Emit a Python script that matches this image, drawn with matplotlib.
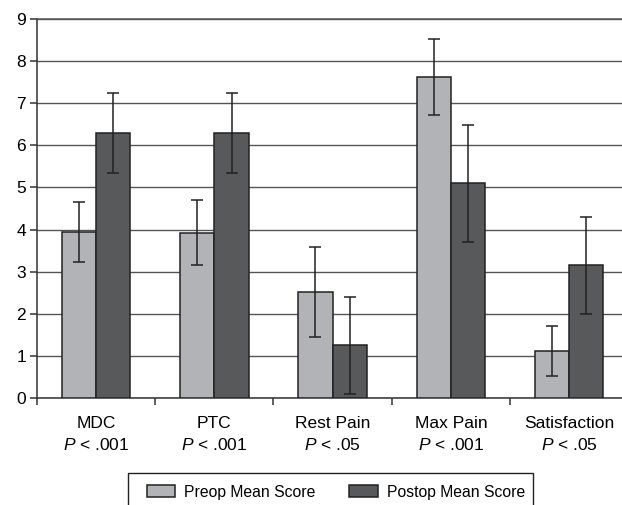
import matplotlib.pyplot as plt
from matplotlib.patches import Rectangle
import numpy as np

categories = ['MDC', 'PTC', 'Rest Pain', 'Max Pain', 'Satisfaction']
p_values = ['< .001', '< .001', '< .05', '< .001', '< .05']
preop_mean = [3.95, 3.93, 2.52, 7.62, 1.12]
preop_err = [0.71, 0.77, 1.07, 0.90, 0.60]
postop_mean = [6.3, 6.3, 1.25, 5.1, 3.15]
postop_err = [0.95, 0.95, 1.15, 1.39, 1.16]

PREOP_COLOR = '#b2b3b7'
POSTOP_COLOR = '#58595b'
W, H = 622, 505


def main():
    plt.rcParams['font.family'] = ['Liberation Sans', 'DejaVu Sans']
    plt.rcParams['mathtext.fontset'] = 'custom'
    plt.rcParams['mathtext.it'] = 'Liberation Sans:italic'
    plt.rcParams['mathtext.rm'] = 'Liberation Sans'

    fig = plt.figure(figsize=(W / 100, H / 100), dpi=100)
    ax = fig.add_axes([37 / W, 107 / H, 1 - 37 / W + 0.01, 379 / H])

    x = np.arange(len(categories))
    w = 0.29
    err_kw = dict(ecolor='#222222', elinewidth=1.1, capsize=4, capthick=1.1)
    ax.bar(x - w / 2, preop_mean, w, yerr=preop_err, color=PREOP_COLOR,
           edgecolor='#222222', linewidth=1.1, label='Preop Mean Score',
           error_kw=err_kw, zorder=3)
    ax.bar(x + w / 2, postop_mean, w, yerr=postop_err, color=POSTOP_COLOR,
           edgecolor='#222222', linewidth=1.1, label='Postop Mean Score',
           error_kw=err_kw, zorder=3)

    ax.set_xlim(-0.5, len(categories) - 0.5)
    ax.set_ylim(0, 9)
    ax.set_yticks(range(10))
    ax.yaxis.grid(True, color='#555555', linewidth=1.0, zorder=0)
    ax.set_axisbelow(True)

    ax.set_xticks(x)
    ax.set_xticklabels([f'{c}\n$P$ {p}' for c, p in zip(categories, p_values)],
                       fontsize=12.5, linespacing=1.45)
    ax.tick_params(axis='x', length=0, pad=13)
    ax.set_xticks(np.arange(len(categories) + 1) - 0.5, minor=True)
    ax.tick_params(axis='x', which='minor', length=5, width=1.1, color='#333333')
    ax.tick_params(axis='y', labelsize=12.5, length=5, width=1.1, color='#333333',
                   pad=3)

    ax.spines['right'].set_visible(False)
    for side in ['left', 'bottom', 'top']:
        ax.spines[side].set_color('#333333')
        ax.spines[side].set_linewidth(1.1)
    ax.spines['top'].set_color('#555555')

    # legend box, cut off by the bottom edge as in the original
    fig.patches.append(Rectangle((128 / W, -0.02), (533 - 128) / W, (H - 473) / H + 0.02,
                                 transform=fig.transFigure, fill=False,
                                 edgecolor='#222222', linewidth=1.0))
    fig.legend(loc='center left', bbox_to_anchor=(133 / W, (H - 492) / H), ncol=2,
               frameon=False, fontsize=11.3, handlelength=1.8, handleheight=0.85,
               handletextpad=0.57, columnspacing=2.15)

    fig.savefig('out.png', dpi=100)


if __name__ == '__main__':
    main()
